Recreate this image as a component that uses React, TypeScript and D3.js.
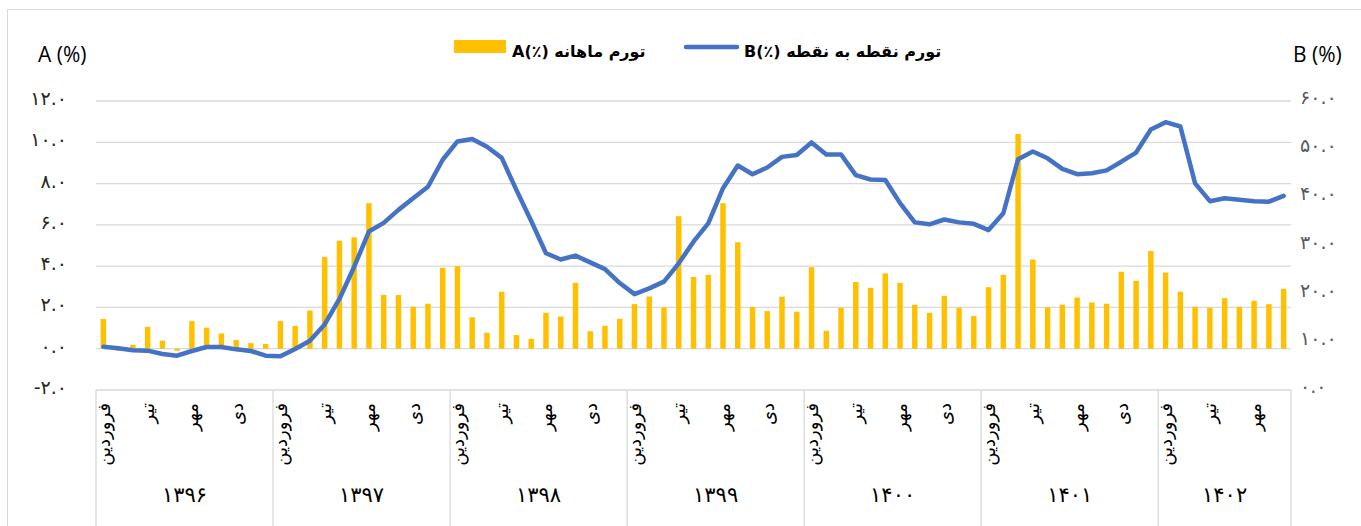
import React from "react";
import * as d3 from "d3";

// سال‌ها و تعداد ماه‌های هر سال
const years = ["1396", "1397", "1398", "1399", "1400", "1401", "1402"];
const monthsPerYear = [12, 12, 12, 12, 12, 12, 9];
const monthLabels = ["فروردین", "تیر", "مهر", "دی"];
const monthLabelIdx = [0, 3, 6, 9];

// تورم ماهانه (A, %)
const monthly = [
  1.44, -0.1, 0.19, 1.06, 0.39, -0.1, 1.34, 1.02, 0.74, 0.42, 0.27, 0.23,
  1.34, 1.1, 1.85, 4.44, 5.23, 5.39, 7.05, 2.61, 2.6, 2.03, 2.18, 3.92,
  4.0, 1.52, 0.77, 2.76, 0.66, 0.48, 1.74, 1.56, 3.19, 0.85, 1.11, 1.45,
  2.16, 2.53, 2.0, 6.42, 3.48, 3.58, 7.05, 5.16, 2.02, 1.82, 2.52, 1.79,
  3.95, 0.87, 1.98, 3.23, 2.95, 3.65, 3.19, 2.13, 1.74, 2.56, 1.98, 1.58,
  2.98, 3.58, 10.4, 4.32, 2.0, 2.13, 2.48, 2.24, 2.18, 3.73, 3.29, 4.73,
  3.69, 2.76, 2.03, 1.98, 2.45, 2.03, 2.32, 2.16, 2.9,
];

// تورم نقطه به نقطه (B, %)
const pointToPoint = [
  9.0, 8.65, 8.24, 8.17, 7.47, 7.13, 8.1, 8.93, 8.93, 8.44, 8.1, 7.13,
  6.99, 8.51, 10.24, 13.6, 18.9, 25.6, 32.9, 34.7, 37.4, 39.8, 42.2, 47.8,
  51.6, 52.1, 50.5, 48.2, 41.5, 35.1, 28.4, 27.1, 27.9, 26.5, 25.1, 22.2,
  19.9, 21.1, 22.5, 26.3, 30.8, 34.6, 41.9, 46.6, 44.8, 46.2, 48.4, 48.8,
  51.4, 48.9, 48.9, 44.6, 43.7, 43.6, 38.8, 34.8, 34.4, 35.4, 34.8, 34.5,
  33.2, 36.7, 47.9, 49.5, 48.1, 45.9, 44.8, 45.0, 45.6, 47.4, 49.3, 54.1,
  55.6, 54.7, 42.9, 39.2, 39.8, 39.5, 39.2, 39.1, 40.3,
];

const leftTicks = [-2, 0, 2, 4, 6, 8, 10, 12];
const rightTicks = [0, 10, 20, 30, 40, 50, 60];

const faDigits = "۰۱۲۳۴۵۶۷۸۹";
const toFa = (s: string) => s.replace(/[0-9]/g, (d) => faDigits[+d]);

const W = 1361;
const H = 526;
const plot = { left: 96, right: 1291, top: 101, bottom: 390 };
const faFont = "'DejaVu Sans', sans-serif";
const latFont = "'Open Sans', 'DejaVu Sans', sans-serif";

export default function App() {
  const n = monthly.length;
  const idx = d3.range(n);

  const x = d3.scaleBand<number>().domain(idx).range([plot.left, plot.right]).padding(0);
  const yL = d3.scaleLinear().domain([-2, 12]).range([plot.bottom, plot.top]);
  const yR = d3.scaleLinear().domain([0, 60]).range([plot.bottom, plot.top]);
  const cx = (i: number) => (x(i) as number) + x.bandwidth() / 2;
  const barW = x.bandwidth() * 0.37;

  const line = d3
    .line<number>()
    .x((_, i) => cx(i))
    .y((d) => yR(d));

  // year boundaries
  const starts: number[] = [];
  monthsPerYear.reduce((acc, m) => {
    starts.push(acc);
    return acc + m;
  }, 0);

  return (
    <svg
      width={W}
      height={H}
      style={{ position: "absolute", left: 0, top: 0, background: "#fff" }}
    >
      <rect x={7.5} y={9.5} width={1360} height={600} fill="#fff" stroke="#D9D9D9" />

      {/* axis titles */}
      <text x={38} y={62} fontFamily={latFont} fontSize={21} fill="#000">
        A (%)
      </text>
      <text x={1293} y={62} fontFamily={latFont} fontSize={21} fill="#000">
        B (%)
      </text>

      {/* legend */}
      <rect x={454} y={40} width={52} height={13} fill="#FFC000" />
      <text x={512} y={57} fontFamily={faFont} fontWeight="bold" fontSize={16} fill="#000" direction="ltr">
        {"A(٪) تورم ماهانه"}
      </text>
      <line x1={686} x2={737} y1={47} y2={47} stroke="#4472C4" strokeWidth={4.5} strokeLinecap="round" />
      <text x={744} y={57} fontFamily={faFont} fontWeight="bold" fontSize={16} fill="#000" direction="ltr">
        {"B(٪) تورم نقطه به نقطه"}
      </text>

      {/* gridlines */}
      {leftTicks
        .filter((t) => t >= 0)
        .map((t) => (
          <line key={t} x1={plot.left} x2={plot.right} y1={yL(t)} y2={yL(t)} stroke="#D9D9D9" strokeWidth={1.3} />
        ))}

      {/* left ticks */}
      {leftTicks.map((t) => (
        <text
          key={t}
          x={67}
          y={yL(t) - 3}
          textAnchor="end"
          dominantBaseline="central"
          fontFamily={faFont}
          fontSize={19}
          fill="#262626"
          direction="ltr"
        >
          {toFa((t < 0 ? "-" + Math.abs(t) : String(t)) + ".0")}
        </text>
      ))}

      {/* right ticks */}
      {rightTicks.map((t) => (
        <text
          key={t}
          x={1300}
          y={yR(t) - 4}
          textAnchor="start"
          dominantBaseline="central"
          fontFamily={faFont}
          fontSize={19}
          fill="#595959"
          direction="ltr"
        >
          {toFa(t + ".0")}
        </text>
      ))}

      {/* bars */}
      {monthly.map((v, i) => (
        <rect
          key={i}
          x={cx(i) - barW / 2}
          y={yL(Math.max(0, v))}
          width={barW}
          height={Math.abs(yL(v) - yL(0))}
          fill="#FFC000"
        />
      ))}

      {/* line */}
      <path
        d={line(pointToPoint) || ""}
        fill="none"
        stroke="#4472C4"
        strokeWidth={4.5}
        strokeLinejoin="round"
        strokeLinecap="round"
      />

      {/* category axis */}
      <line x1={plot.left} x2={plot.right} y1={plot.bottom} y2={plot.bottom} stroke="#D9D9D9" strokeWidth={1.3} />
      {starts.concat([n]).map((s, k) => {
        const xb = s < n ? (x(s) as number) : plot.right;
        return <line key={k} x1={xb} x2={xb} y1={plot.bottom} y2={H} stroke="#D9D9D9" strokeWidth={1.3} />;
      })}

      {/* month labels */}
      {years.map((yr, k) =>
        monthLabelIdx
          .filter((m) => m < monthsPerYear[k])
          .map((m, j) => {
            const i = starts[k] + m;
            return (
              <text
                key={yr + m}
                transform={`translate(${cx(i)},403) rotate(-90)`}
                textAnchor="end"
                dominantBaseline="central"
                fontFamily={faFont}
                fontSize={18}
                fill="#000"
                direction="ltr"
              >
                {monthLabels[j]}
              </text>
            );
          })
      )}

      {/* year labels */}
      {years.map((yr, k) => {
        const x0 = x(starts[k]) as number;
        const x1 = starts[k] + monthsPerYear[k] < n ? (x(starts[k] + monthsPerYear[k]) as number) : plot.right;
        return (
          <text
            key={yr}
            x={(x0 + x1) / 2}
            y={495}
            textAnchor="middle"
            dominantBaseline="central"
            fontFamily={faFont}
            fontSize={21}
            fill="#000"
          >
            {toFa(yr)}
          </text>
        );
      })}
    </svg>
  );
}
